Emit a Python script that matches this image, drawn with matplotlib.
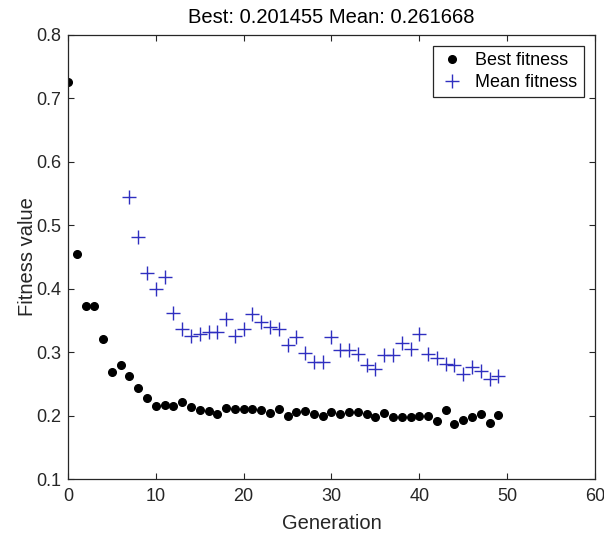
import matplotlib
matplotlib.use("Agg")
import matplotlib.pyplot as plt

# Best fitness per generation (0..49)
best_gen = list(range(50))
best_fitness = [0.726, 0.454, 0.372, 0.372, 0.321, 0.268, 0.279, 0.263, 0.243, 0.228,
                0.215, 0.217, 0.215, 0.222, 0.213, 0.208, 0.207, 0.203, 0.212, 0.210,
                0.210, 0.210, 0.209, 0.204, 0.210, 0.200, 0.205, 0.207, 0.203, 0.199,
                0.206, 0.203, 0.205, 0.205, 0.203, 0.197, 0.204, 0.197, 0.197, 0.197,
                0.200, 0.200, 0.192, 0.209, 0.187, 0.193, 0.197, 0.203, 0.189, 0.201455]

# Mean fitness (earlier generations are off the top of the axis)
mean_gen = list(range(7, 50))
mean_fitness = [0.544, 0.482, 0.424, 0.399, 0.418, 0.362, 0.337, 0.326, 0.329, 0.331,
                0.332, 0.352, 0.326, 0.337, 0.360, 0.347, 0.339, 0.337, 0.312, 0.324,
                0.299, 0.285, 0.285, 0.324, 0.304, 0.304, 0.297, 0.280, 0.274, 0.296,
                0.296, 0.314, 0.305, 0.329, 0.297, 0.290, 0.282, 0.279, 0.266, 0.276,
                0.271, 0.258, 0.261668]

plt.rcParams['font.family'] = ['Liberation Sans', 'DejaVu Sans']
axis_grey = '#262626'

fig = plt.figure(figsize=(6.04, 5.37), dpi=100)
ax = fig.add_axes([0.1126, 0.108, 0.8724, 0.827])

ax.plot(best_gen, best_fitness, 'o', color='black', markersize=5.5, label='Best fitness')
ax.plot(mean_gen, mean_fitness, '+', color='#2f2fc0', markersize=10, markeredgewidth=1.0,
        label='Mean fitness')

ax.set_xlim(0, 60)
ax.set_ylim(0.1, 0.8)
ax.set_xticks(range(0, 61, 10))
ax.set_yticks([0.1, 0.2, 0.3, 0.4, 0.5, 0.6, 0.7, 0.8])
ax.set_yticklabels(['0.1', '0.2', '0.3', '0.4', '0.5', '0.6', '0.7', '0.8'])

ax.tick_params(direction='in', top=True, right=True, length=4, width=0.8,
               labelsize=13, colors=axis_grey, labelcolor=axis_grey)
ax.tick_params(axis='x', pad=6.5)
ax.tick_params(axis='y', pad=5)
for s in ax.spines.values():
    s.set_color(axis_grey)
    s.set_linewidth(0.9)

ax.set_xlabel('Generation', fontsize=14.5, color=axis_grey)
ax.set_ylabel('Fitness value', fontsize=14.5, color=axis_grey)
ax.xaxis.set_label_coords(0.5, -0.079)
ax.yaxis.set_label_coords(-0.059, 0.5)
ax.set_title('Best: 0.201455 Mean: 0.261668', fontsize=14.5, color='black', pad=8.5)

leg = ax.legend(loc='upper right', fontsize=13, fancybox=False, framealpha=1,
                edgecolor=axis_grey, handlelength=1.4, borderpad=0.35,
                labelspacing=0.25, handletextpad=0.6, borderaxespad=0,
                bbox_to_anchor=(0.979, 0.975))
leg.get_frame().set_linewidth(0.9)

fig.savefig('out.png', dpi=100)
